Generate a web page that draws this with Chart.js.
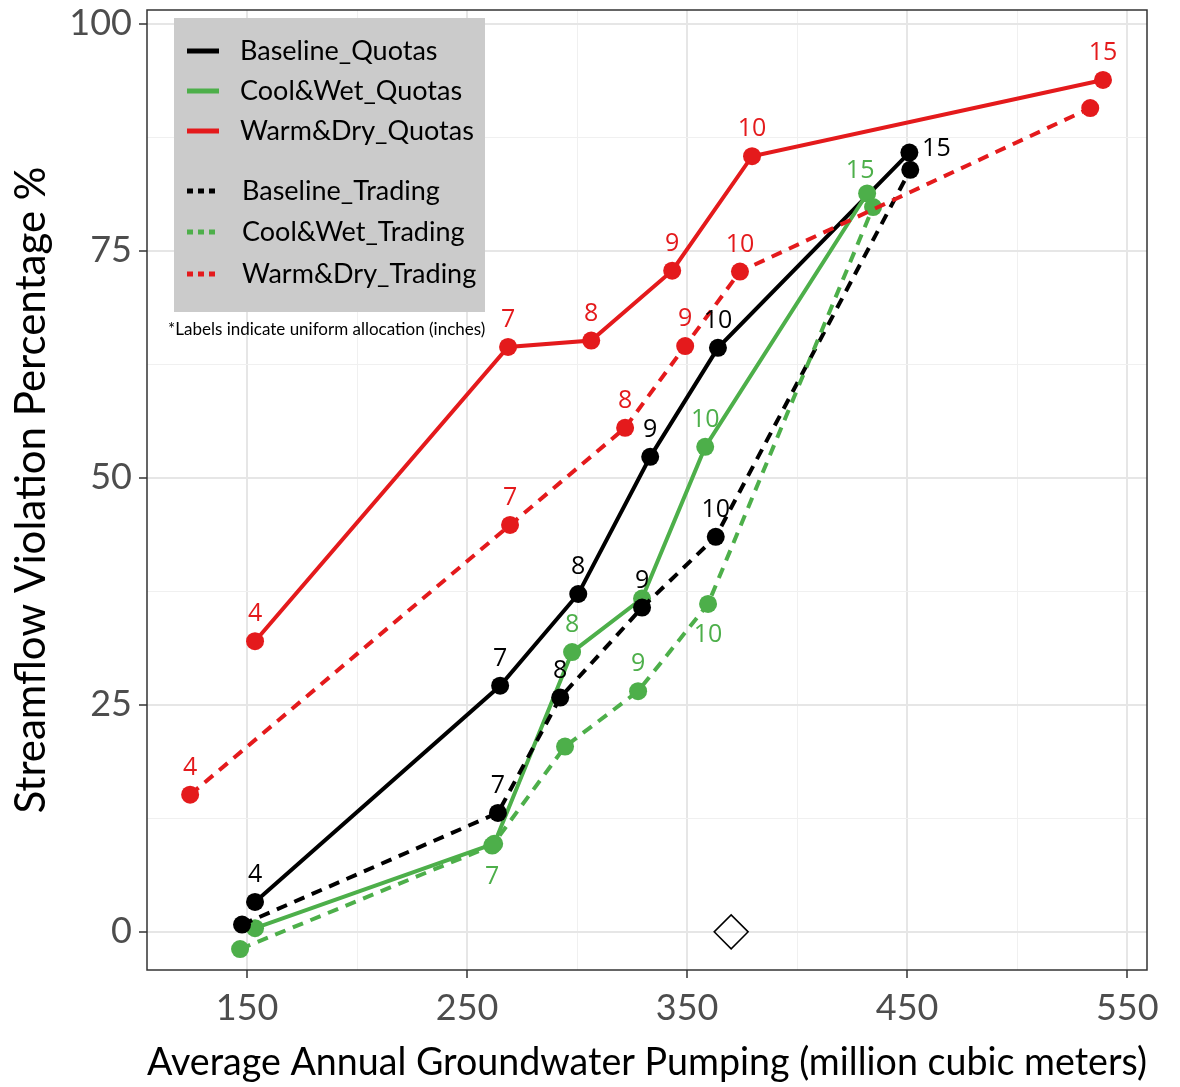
<!DOCTYPE html>
<html lang="en">
<head>
  <meta charset="UTF-8">
  <title>Streamflow violation vs groundwater pumping</title>
  <script src="https://cdn.jsdelivr.net/npm/chart.js@4.4.4/dist/chart.umd.min.js"></script>
  <style>
    html, body { margin: 0; padding: 0; background: #fff; }
    #chart { display: block; }
  </style>
</head>
<body>
  <canvas id="chart" width="1180" height="1087"></canvas>
  <script>
    // values: x = pumping (million m3), y = violation %
    const baseQuotasX   = [153.6, 265.0, 300.5, 333.2, 364.0, 451.0];
    const baseQuotasY   = [3.3, 27.1, 37.2, 52.3, 64.3, 85.8];
    const baseQuotasLbl = ['4', '7', '8', '9', '10', '15'];

    const baseTradeX    = [147.7, 264.0, 292.3, 329.5, 363.0, 451.4];
    const baseTradeY    = [0.8, 13.1, 25.8, 35.7, 43.5, 83.9];
    const baseTradeLbl  = [null, '7', '8', '9', '10', null];

    const coolQuotasX   = [153.6, 262.3, 297.7, 329.5, 358.2, 431.8];
    const coolQuotasY   = [0.4, 9.7, 30.8, 36.7, 53.4, 81.3];
    const coolQuotasLbl = [null, null, '8', null, '10', '15'];

    const coolTradeX    = [146.8, 261.4, 294.5, 327.7, 359.5, 434.5];
    const coolTradeY    = [-1.9, 9.5, 20.4, 26.5, 36.1, 79.8];
    const coolTradeLbl  = [null, '7', null, '9', '10', null];

    const warmQuotasX   = [153.6, 268.6, 306.4, 343.2, 379.5, 539.0];
    const warmQuotasY   = [32.0, 64.4, 65.1, 72.8, 85.4, 93.8];
    const warmQuotasLbl = ['4', '7', '8', '9', '10', '15'];

    const warmTradeX    = [124.1, 269.5, 321.8, 349.1, 374.0, 533.2];
    const warmTradeY    = [15.1, 44.8, 55.5, 64.5, 72.7, 90.7];
    const warmTradeLbl  = ['4', '7', '8', '9', '10', null];

    const markerX = [370];
    const markerY = [0];

    const xTicks = [150, 200, 250, 300, 350, 400, 450, 500, 550];
    const yTicks = [0, 12.5, 25, 37.5, 50, 62.5, 75, 87.5, 100];

    const BLACK = '#000000';
    const GREEN = '#4daf4a';
    const RED = '#e41a1c';
    const DASH = [11, 8];

    // where each label sits relative to its point (by series, by index)
    const labelSide = {
      'Baseline_Quotas': ['above', 'above', 'above', 'above', 'above', 'right'],
      'Cool&Wet_Quotas': [null, null, 'above', null, 'above', 'aboveLeft'],
      'Cool&Wet_Trading': [null, 'below', null, 'above', 'below', null]
    };

    function pts(xs, ys) {
      return xs.map((x, i) => ({ x: x, y: ys[i] }));
    }

    function series(name, xs, ys, lbls, color, dashed) {
      return {
        label: name,
        data: pts(xs, ys),
        allocLabels: lbls,
        borderColor: color,
        backgroundColor: color,
        borderWidth: 4,
        borderDash: dashed ? DASH : [],
        pointRadius: 9,
        pointBorderWidth: 0,
        pointBackgroundColor: color,
        showLine: true,
        tension: 0
      };
    }

    const datasets = [
      series('Warm&Dry_Trading', warmTradeX, warmTradeY, warmTradeLbl, RED, true),
      series('Cool&Wet_Trading', coolTradeX, coolTradeY, coolTradeLbl, GREEN, true),
      series('Baseline_Trading', baseTradeX, baseTradeY, baseTradeLbl, BLACK, true),
      series('Warm&Dry_Quotas', warmQuotasX, warmQuotasY, warmQuotasLbl, RED, false),
      series('Cool&Wet_Quotas', coolQuotasX, coolQuotasY, coolQuotasLbl, GREEN, false),
      series('Baseline_Quotas', baseQuotasX, baseQuotasY, baseQuotasLbl, BLACK, false),
      {
        label: 'marker',
        data: pts(markerX, markerY),
        showLine: false,
        pointStyle: 'rectRot',
        pointRadius: 17,
        pointBorderWidth: 1.5,
        pointBorderColor: BLACK,
        pointBackgroundColor: 'rgba(255,255,255,0)',
        borderColor: BLACK,
        backgroundColor: 'rgba(255,255,255,0)'
      }
    ];

    const legendOrder = [
      ['Baseline_Quotas', BLACK, false],
      ['Cool&Wet_Quotas', GREEN, false],
      ['Warm&Dry_Quotas', RED, false],
      ['Baseline_Trading', BLACK, true],
      ['Cool&Wet_Trading', GREEN, true],
      ['Warm&Dry_Trading', RED, true]
    ];

    const labelPlugin = {
      id: 'allocLabels',
      afterDatasetsDraw(chart) {
        const ctx = chart.ctx;
        ctx.save();
        ctx.font = '25px "Open Sans", sans-serif';
        ctx.textAlign = 'center';
        ctx.textBaseline = 'middle';
        chart.data.datasets.forEach((ds, di) => {
          if (!ds.allocLabels) return;
          const meta = chart.getDatasetMeta(di);
          const sides = labelSide[ds.label] || [];
          meta.data.forEach((pt, i) => {
            const txt = ds.allocLabels[i];
            if (txt == null) return;
            const side = sides[i] || 'above';
            let dx = 0, dy = -27;
            if (side === 'below') dy = 31;
            if (side === 'right') { dx = 27; dy = -4; }
            if (side === 'aboveLeft') { dx = -7; dy = -23; }
            ctx.fillStyle = ds.borderColor;
            ctx.fillText(txt, pt.x + dx, pt.y + dy);
          });
        });
        ctx.restore();
      }
    };

    const legendPlugin = {
      id: 'boxLegend',
      afterDraw(chart) {
        const ctx = chart.ctx;
        ctx.save();
        ctx.fillStyle = '#cbcbcb';
        ctx.fillRect(174, 18, 311, 294);
        const rows = [51, 91, 131, 191, 232, 274];
        ctx.font = '27px Lato, sans-serif';
        ctx.textBaseline = 'middle';
        ctx.textAlign = 'left';
        legendOrder.forEach((item, i) => {
          const y = rows[i];
          ctx.strokeStyle = item[1];
          ctx.lineWidth = 5;
          ctx.lineCap = 'butt';
          ctx.setLineDash(item[2] ? [6, 5] : []);
          ctx.beginPath();
          ctx.moveTo(187, y);
          ctx.lineTo(item[2] ? 216 : 219, y);
          ctx.stroke();
          ctx.setLineDash([]);
          ctx.fillStyle = '#000';
          ctx.fillText(item[0], item[2] ? 242 : 240, y);
        });
        ctx.font = '17px Lato, sans-serif';
        ctx.fillText('*Labels indicate uniform allocation (inches)', 168, 330);
        ctx.restore();
      }
    };

    const borderPlugin = {
      id: 'panelBorder',
      afterDatasetsDraw(chart) {
        const a = chart.chartArea;
        const ctx = chart.ctx;
        ctx.save();
        ctx.strokeStyle = '#333333';
        ctx.lineWidth = 1.5;
        ctx.strokeRect(a.left, a.top, a.right - a.left, a.bottom - a.top);
        ctx.restore();
      }
    };

    const isMajorX = v => (v - 150) % 100 === 0;
    const isMajorY = v => v % 25 === 0;

    const config = {
      type: 'line',
      data: { datasets: datasets },
      options: {
        responsive: false,
        animation: false,
        layout: { autoPadding: false, padding: { top: 10, right: 33, left: 0, bottom: 0 } },
        plugins: {
          legend: { display: false },
          tooltip: { enabled: false }
        },
        scales: {
          x: {
            type: 'linear',
            min: 104.5,
            max: 559,
            afterBuildTicks: s => { s.ticks = xTicks.map(v => ({ value: v })); },
            afterFit: s => { s.height = 117; s.paddingLeft = 0; s.paddingRight = 0; },
            border: { display: false },
            grid: {
              color: c => isMajorX(c.tick.value) ? '#e6e6e6' : '#f0f0f0',
              lineWidth: c => isMajorX(c.tick.value) ? 2 : 1,
              tickColor: c => isMajorX(c.tick.value) ? '#333333' : 'rgba(0,0,0,0)',
              tickLength: 8,
              tickWidth: 1.5
            },
            ticks: {
              autoSkip: false,
              maxRotation: 0,
              padding: 9,
              color: '#4d4d4d',
              font: { family: 'Lato, sans-serif', size: 36 },
              callback: v => isMajorX(v) ? String(v) : ''
            },
            title: {
              display: true,
              text: 'Average Annual Groundwater Pumping (million cubic meters)',
              color: '#000',
              font: { family: 'Lato, sans-serif', size: 39 },
              padding: { top: 0, bottom: 1 }
            }
          },
          y: {
            type: 'linear',
            min: -4.2,
            max: 101.5,
            afterBuildTicks: s => { s.ticks = yTicks.map(v => ({ value: v })); },
            afterFit: s => { s.width = 147; s.paddingTop = 0; s.paddingBottom = 0; },
            border: { display: false },
            grid: {
              color: c => isMajorY(c.tick.value) ? '#e6e6e6' : '#f0f0f0',
              lineWidth: c => isMajorY(c.tick.value) ? 2 : 1,
              tickColor: c => isMajorY(c.tick.value) ? '#333333' : 'rgba(0,0,0,0)',
              tickLength: 8,
              tickWidth: 1.5
            },
            ticks: {
              autoSkip: false,
              padding: 7,
              color: '#4d4d4d',
              font: { family: 'Lato, sans-serif', size: 36 },
              callback: v => isMajorY(v) ? String(v) : ''
            },
            title: {
              display: true,
              text: 'Streamflow Violation Percentage %',
              color: '#000',
              font: { family: 'Lato, sans-serif', size: 42 },
              padding: { top: 6, bottom: 0 }
            }
          }
        }
      },
      plugins: [borderPlugin, labelPlugin, legendPlugin]
    };

    new Chart(document.getElementById('chart'), config);
  </script>
</body>
</html>
